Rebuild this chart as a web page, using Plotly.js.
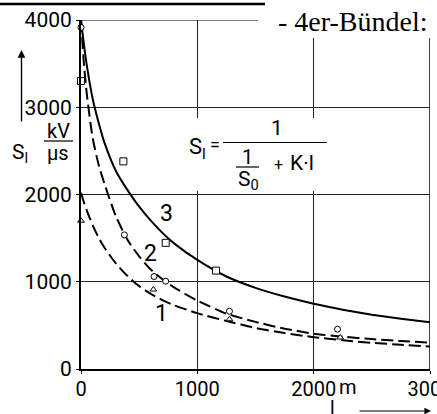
<!DOCTYPE html>
<html>
<head>
<meta charset="utf-8">
<script src="https://cdn.plot.ly/plotly-3.0.1.min.js"></script>
<style>html,body{margin:0;padding:0;background:#fff;}#chart{width:437px;height:414px;}</style>
</head>
<body>
<div id="chart"></div>
<script>
// Curve readings (l in m, S_l in kV/us)
const lengths = [0, 25, 50, 100, 150, 200, 300, 400, 500, 600, 700, 800, 1000, 1250, 1500, 1750, 2000, 2250, 2500, 2750, 3000];
const curve3 = [4000, 3720, 3480, 3100, 2830, 2600, 2270, 2050, 1860, 1700, 1560, 1440, 1250, 1060, 930, 830, 748, 680, 622, 575, 535];
const curve2 = [4000, 3500, 3150, 2650, 2350, 2130, 1750, 1480, 1290, 1140, 1030, 935, 785, 635, 540, 462, 405, 370, 343, 320, 302];
const curve1 = [2020, 1910, 1815, 1650, 1510, 1395, 1210, 1065, 950, 860, 790, 730, 640, 550, 470, 412, 365, 330, 300, 277, 258];

// Measured points
const squareL = [0, 364, 728, 1161];
const squareS = [3300, 2380, 1446, 1128];
const circleL = [0, 373, 628, 728, 1276, 2205];
const circleS = [3915, 1537, 1060, 1006, 662, 456];
const triL = [0, 622, 1276, 2228];
const triS = [1700, 911, 570, 361];

// Axis ticks
const xTickVals = [0, 1000, 2000, 3000];
const xTickText = ["0", "1000", "2000", "3000"];
const yTickVals = [0, 1000, 2000, 3000, 4000];
const yTickText = ["0", "1000", "2000", "3000", "4000"];

// Curve labels
const curveLabels = ["1", "2", "3"];
const labelL = [696, 599, 731];
const labelS = [632, 1320, 1780];

const FONT = "Roboto, Liberation Sans, sans-serif";
const L = 81, T = 20, W = 349, H = 349;
const px = x => (x - L) / W;
const py = y => (T + H - y) / H;

const lineStyle = {color: "#000", width: 2, shape: "spline", smoothing: 0.6};
const traces = [
  {x: lengths, y: curve3, mode: "lines", line: Object.assign({}, lineStyle), hoverinfo: "skip"},
  {x: lengths, y: curve2, mode: "lines", line: Object.assign({dash: "12px,5px"}, lineStyle), hoverinfo: "skip"},
  {x: lengths, y: curve1, mode: "lines", line: Object.assign({dash: "12px,5px"}, lineStyle), hoverinfo: "skip"},
  {x: squareL, y: squareS, mode: "markers", cliponaxis: false,
   marker: {symbol: "square", size: 7, color: "#fff", line: {color: "#000", width: 1}}},
  {x: circleL, y: circleS, mode: "markers", cliponaxis: false,
   marker: {symbol: "circle", size: 6, color: "#fff", line: {color: "#000", width: 1}}},
  {x: triL, y: triS, mode: "markers", cliponaxis: false,
   marker: {symbol: "triangle-up", size: 6, color: "#fff", line: {color: "#000", width: 1}}}
];

const ann = [];
function txt(text, x, y, size, opts) {
  ann.push(Object.assign({text: text, xref: "paper", yref: "paper", x: px(x), y: py(y),
    xanchor: "center", yanchor: "middle", showarrow: false,
    font: {family: FONT, size: size, color: "#000"}}, opts || {}));
}
for (let i = 0; i < curveLabels.length; i++) {
  ann.push({text: curveLabels[i], x: labelL[i], y: labelS[i], xref: "x", yref: "y",
    showarrow: false, font: {family: FONT, size: 23, color: "#000"}});
}
// y axis label
txt("S<sub>l</sub>", 20, 153, 21);
txt("kV", 58, 131, 20);
txt("µs", 58, 153, 20);
// x axis label and unit
txt("m", 337, 387, 20, {xanchor: "left"});
txt("l", 332, 407, 19);
// formula
txt("S<sub>l</sub>", 197, 148, 22);
txt("=", 215, 144, 18);
txt("1", 277, 128, 21);
txt("1", 247, 157, 20);
txt("S<sub>0</sub>", 248, 180, 21);
txt("+", 278, 165, 16);
txt("K·l", 302, 163, 21);
// title fragment
ann.push({text: "- 4er-Bündel:", xref: "paper", yref: "paper", x: px(276), y: py(22),
  xanchor: "left", yanchor: "middle", showarrow: false,
  font: {family: "Liberation Serif, Times New Roman, serif", size: 28, color: "#000"}});
// arrows
ann.push({text: "", xref: "paper", yref: "paper", x: px(21.5), y: py(50), ax: 0, ay: 73,
  showarrow: true, arrowhead: 2, arrowsize: 1.1, arrowwidth: 1.4, arrowcolor: "#000"});
ann.push({text: "", xref: "paper", yref: "paper", x: px(431), y: py(411), ax: -73, ay: 0,
  showarrow: true, arrowhead: 2, arrowsize: 1.1, arrowwidth: 1.2, arrowcolor: "#000"});

const shapes = [
  {type: "line", xref: "x", yref: "y", x0: 3000, x1: 3000, y0: 0, y1: 4000, line: {color: "#000", width: 1.5}},
  {type: "line", xref: "x", yref: "y", x0: 0, x1: 3000, y0: 4000, y1: 4000, line: {color: "#000", width: 1}},
  {type: "rect", xref: "paper", yref: "paper", x0: px(185), x1: px(335), y0: py(118), y1: py(191),
    fillcolor: "#fff", line: {width: 0}, layer: "above"},
  {type: "rect", xref: "paper", yref: "paper", x0: px(258), x1: px(440), y0: py(-5), y1: py(38),
    fillcolor: "#fff", line: {width: 0}, layer: "above"},
  {type: "line", xref: "paper", yref: "paper", x0: px(0), x1: px(265), y0: py(4), y1: py(4),
    line: {color: "#000", width: 2.5}},
  {type: "line", xref: "paper", yref: "paper", x0: px(223), x1: px(327), y0: py(142.5), y1: py(142.5),
    line: {color: "#000", width: 1.2}, layer: "above"},
  {type: "line", xref: "paper", yref: "paper", x0: px(236), x1: px(259), y0: py(167), y1: py(167),
    line: {color: "#000", width: 1.2}, layer: "above"},
  {type: "line", xref: "paper", yref: "paper", x0: px(44), x1: px(73), y0: py(141), y1: py(141),
    line: {color: "#000", width: 1.2}}
];

const layout = {
  width: 437, height: 414,
  margin: {l: L, r: 7, t: T, b: 45, pad: 0},
  paper_bgcolor: "#fff", plot_bgcolor: "#fff",
  showlegend: false,
  font: {family: FONT, size: 21, color: "#000"},
  xaxis: {range: [0, 3000], tickvals: xTickVals, ticktext: xTickText,
    showgrid: true, gridcolor: "#222", gridwidth: 1, zeroline: false,
    showline: true, linecolor: "#000", linewidth: 1.5,
    ticks: "outside", ticklen: 3, tickcolor: "#000", ticklabeloverflow: "allow",
    ticklabelstandoff: -2,
    tickfont: {family: FONT, size: 20, color: "#000"}, fixedrange: true},
  yaxis: {range: [0, 4000], tickvals: yTickVals, ticktext: yTickText,
    showgrid: true, gridcolor: "#222", gridwidth: 1, zeroline: false,
    showline: true, linecolor: "#000", linewidth: 2,
    ticks: "outside", ticklen: 3, tickcolor: "#000", ticklabeloverflow: "allow",
    tickfont: {family: FONT, size: 21, color: "#000"}, fixedrange: true},
  annotations: ann,
  shapes: shapes
};

Plotly.newPlot("chart", traces, layout, {staticPlot: true, displayModeBar: false});
</script>
</body>
</html>
